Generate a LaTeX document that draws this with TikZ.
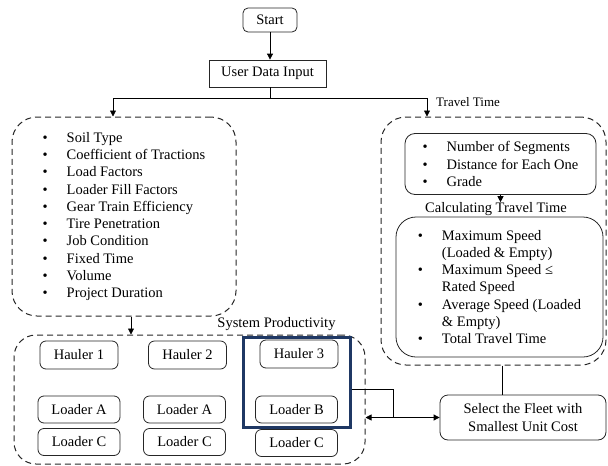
\documentclass[tikz,border=0pt]{standalone}
\usepackage{fontspec}
\setmainfont{Liberation Serif}
\usetikzlibrary{arrows.meta}
\definecolor{fleetblue}{RGB}{31,56,100}
\tikzset{
  every node/.style={font=\fontsize{14.5}{17.3}\selectfont},
  box/.style={draw=black!85, line width=0.8pt, rounded corners=6pt, minimum width=78pt, minimum height=28pt, inner sep=2pt},
  group/.style={draw=black!85, line width=1pt, dash pattern=on 6pt off 4pt, rounded corners=25pt},
  arr/.style={-{Triangle[length=6pt,width=6pt]}, line width=0.8pt},
}
\newcommand{\bul}[1]{\makebox[24pt][l]{\textbullet}#1}

\begin{document}
\begin{tikzpicture}[x=1pt,y=-1pt]
  \useasboundingbox (0,0) rectangle (608,466);

  % Start and the user input
  \node[box, minimum width=54pt, minimum height=24pt, rounded corners=5pt] (start) at (270,20) {Start};
  \node[box, rounded corners=0pt, minimum width=117pt, minimum height=27pt] (input) at (267.5,73.5) {User Data Input};
  \coordinate (split) at (270,98);

  % Parameters of the project
  \node[group, minimum width=224pt, minimum height=199pt, align=left] (params) at (124,216.5) {%
    \bul{Soil Type}\\ \bul{Coefficient of Tractions}\\ \bul{Load Factors}\\
    \bul{Loader Fill Factors}\\ \bul{Gear Train Efficiency}\\ \bul{Tire Penetration}\\
    \bul{Job Condition}\\ \bul{Fixed Time}\\ \bul{Volume}\\ \bul{Project Duration}};

  % Travel time part
  \node[font=\fontsize{13}{15}\selectfont, anchor=west, inner sep=0pt] (ttlabel) at (436,102) {Travel Time};
  \node[group, minimum width=225pt, minimum height=248pt] (travel) at (493.5,241) {};
  \node[box, rounded corners=10pt, minimum width=191pt, minimum height=61pt, align=left] (segs) at (500.5,164) {%
    \bul{Number of Segments}\\ \bul{Distance for Each One}\\ \bul{Grade}};
  \node[inner sep=0pt] (calc) at (496,209) {Calculating Travel Time};
  \node[box, rounded corners=20pt, minimum width=207pt, minimum height=140pt, align=left] (speed) at (499.5,287) {%
    \bul{Maximum Speed}\\ \hspace*{24pt}(Loaded \& Empty)\\
    \bul{Maximum Speed ≤}\\ \hspace*{24pt}Rated Speed\\
    \bul{Average Speed (Loaded}\\ \hspace*{24pt}\& Empty)\\
    \bul{Total Travel Time}};

  % Fleet selection
  \node[box, rounded corners=8pt, minimum width=166pt, minimum height=45pt, align=center] (select) at (523,417.5) {Select the Fleet with\\Smallest Unit Cost};

  % System productivity with haulers and loaders
  \node[inner sep=0pt] (syslabel) at (276.5,324) {System Productivity};
  \node[group, rounded corners=22pt, minimum width=351pt, minimum height=129pt] (system) at (189.5,399.5) {};
  \node[box] (hauler1) at (79,355) {Hauler 1};
  \node[box] (hauler2) at (187.5,355) {Hauler 2};
  \node[box] (hauler3) at (299,354) {Hauler 3};
  \node[box, minimum width=82pt, minimum height=27pt] (loadera1) at (79,409.5) {Loader A};
  \node[box, minimum width=82pt, minimum height=27pt] (loadera2) at (184.5,409.5) {Loader A};
  \node[box, minimum width=82pt, minimum height=27pt] (loaderb) at (296.5,409.5) {Loader B};
  \node[box, minimum width=82pt, minimum height=27pt] (loaderc1) at (79,442) {Loader C};
  \node[box, minimum width=82pt, minimum height=27pt] (loaderc2) at (184.5,442) {Loader C};
  \node[box, minimum width=82pt, minimum height=27pt] (loaderc3) at (296.5,443) {Loader C};

  % The chosen fleet
  \node[draw=fleetblue, line width=3pt, minimum width=107pt, minimum height=90pt] (fleet) at (296.5,382) {};
  \coordinate (join) at (393,417.5);

  % Connections
  \draw[arr] (start) -- (start |- input.north);
  \draw[line width=0.8pt] (input.south -| split) -- (split);
  \draw[arr] (split) -| ([xshift=-11pt]params.north);
  \draw[arr] (split) -| ([xshift=-66.5pt]travel.north);
  \draw[arr] ([xshift=7pt]params.south) -- ([xshift=7pt]params.south |- system.north);
  \draw[arr] (segs.south) -- (segs.south |- calc.north);
  \draw[line width=0.8pt] ([xshift=8.5pt]travel.south) -- ([xshift=8.5pt]travel.south |- select.north);
  \draw[line width=0.8pt] ([yshift=-7.5pt]fleet.east) -| (join);
  \draw[{Triangle[length=6pt,width=6pt]}-{Triangle[length=6pt,width=6pt]}, line width=0.8pt] (system.east |- select.west) -- (select.west);

\end{tikzpicture}
\end{document}
